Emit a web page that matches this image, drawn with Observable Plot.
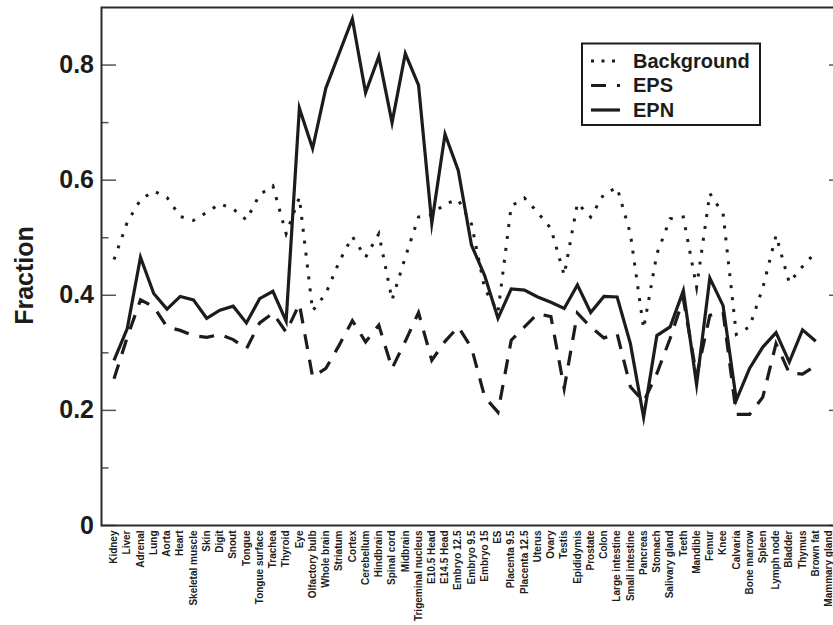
<!DOCTYPE html>
<html><head><meta charset="utf-8">
<script src="https://cdn.jsdelivr.net/npm/d3@7"></script>
<script src="https://cdn.jsdelivr.net/npm/@observablehq/plot@0.6"></script>
<style>
html,body{margin:0;padding:0;background:#fff;overflow:hidden;}
#wrap{width:833px;height:625px;overflow:hidden;position:relative;background:#fff;}
</style></head><body><div id="wrap"></div>
<script>
const tissues = ["Kidney","Liver","Adrenal","Lung","Aorta","Heart","Skeletal muscle","Skin","Digit","Snout","Tongue","Tongue surface","Trachea","Thyroid","Eye","Olfactory bulb","Whole brain","Striatum","Cortex","Cerebellum","Hindbrain","Spinal cord","Midbrain","Trigeminal nucleus","E10.5 Head","E14.5 Head","Embryo 12.5","Embryo 9.5","Embryo 15","ES","Placenta 9.5","Placenta 12.5","Uterus","Ovary","Testis","Epididymis","Prostate","Colon","Large intestine","Small intestine","Pancreas","Stomach","Salivary gland","Teeth","Mandible","Femur","Knee","Calvaria","Bone marrow","Spleen","Lymph node","Bladder","Thymus","Brown fat","Mammary gland"];

const background = [0.462,0.527,0.566,0.581,0.570,0.537,0.530,0.544,0.559,0.550,0.531,0.575,0.590,0.507,0.570,0.373,0.403,0.458,0.502,0.466,0.507,0.392,0.466,0.536,0.540,0.559,0.566,0.524,0.411,0.371,0.555,0.569,0.544,0.516,0.435,0.560,0.536,0.576,0.587,0.507,0.342,0.472,0.533,0.536,0.414,0.577,0.542,0.332,0.345,0.413,0.504,0.422,0.450,0.475,null];

const eps = [0.255,0.327,0.392,0.380,0.345,0.339,0.330,0.327,0.332,0.323,0.307,0.352,0.369,0.336,0.385,0.258,0.273,0.313,0.356,0.319,0.348,0.273,0.320,0.370,0.287,0.320,0.345,0.309,0.223,0.197,0.322,0.345,0.368,0.363,0.238,0.369,0.345,0.326,0.333,0.241,0.215,0.264,0.325,0.394,0.260,0.365,0.371,0.193,0.193,0.223,0.316,0.265,0.263,0.278,null];

const epn = [0.287,0.342,0.466,0.403,0.376,0.398,0.392,0.360,0.374,0.381,0.352,0.394,0.407,0.355,0.725,0.655,0.760,0.820,0.880,0.752,0.815,0.700,0.820,0.765,0.525,0.680,0.617,0.487,0.434,0.360,0.411,0.409,0.397,0.388,0.377,0.418,0.370,0.398,0.397,0.316,0.188,0.330,0.345,0.408,0.245,0.430,0.382,0.218,0.273,0.310,0.335,0.284,0.340,0.320,null];

const majorTicks = [0, 0.2, 0.4, 0.6, 0.8];
const minorTicks = [0.1, 0.3, 0.5, 0.7];
const seriesNames = ["Background", "EPS", "EPN"];
const yLabel = "Fraction";

const rows = s => tissues.map((t, i) => ({tissue: t, value: s[i]}));
const ink = "#1c1c1c";
const tickInk = "#555";
const FONT = "'Liberation Sans', Arial, Helvetica, sans-serif";
const lineStyle = {x: "tissue", y: "value", stroke: ink, strokeWidth: 3.2, strokeLinejoin: "miter", strokeMiterlimit: 10, strokeLinecap: "butt", curve: "linear"};
const dashes = {"Background": "3,9", "EPS": "15,11", "EPN": null};

const chart = Plot.plot({
  width: 845, height: 625,
  marginLeft: 101, marginRight: 2, marginTop: 7, marginBottom: 100,
  style: {fontFamily: FONT, maxWidth: "none", background: "#fff", color: ink},
  x: {type: "point", domain: tissues, padding: 1.02, align: 0.463, round: false},
  y: {domain: [0, 0.9]},
  marks: [
    Plot.line(rows(background), {...lineStyle, strokeWidth: 3, strokeDasharray: dashes["Background"]}),
    Plot.line(rows(eps), {...lineStyle, strokeDasharray: dashes["EPS"]}),
    Plot.line(rows(epn), {...lineStyle}),
    Plot.axisX({tickSize: 0, tickRotate: -90, tickPadding: 5, fontSize: 10, fontWeight: "bold", fill: ink, label: null}),
    Plot.axisY({anchor: "left", ticks: majorTicks, tickSize: -15, tickPadding: 22.5,
      tickFormat: d => d === 0 ? "0" : d3.format(".1f")(d),
      fontSize: 25, fontWeight: "bold", fill: ink, stroke: tickInk, strokeWidth: 1.5, label: null}),
    Plot.axisY({anchor: "left", ticks: minorTicks, tickSize: -7.5, fill: "none", stroke: tickInk, strokeWidth: 1.5, label: null}),
    Plot.axisY({anchor: "right", ticks: majorTicks, tickSize: -15, fill: "none", stroke: tickInk, strokeWidth: 1.5, label: null}),
    Plot.axisY({anchor: "right", ticks: minorTicks, tickSize: -7.5, fill: "none", stroke: tickInk, strokeWidth: 1.5, label: null}),
    Plot.frame({stroke: "#2a2a2a", strokeWidth: 2}),
    Plot.text([yLabel], {text: d => d, frameAnchor: "left", dx: -77, dy: 9, rotate: -90, fontSize: 25, fontWeight: "bold", fill: ink, textAnchor: "middle", lineAnchor: "middle"})
  ]
});

// legend
const svg = d3.select(chart);
const lg = svg.append("g").attr("font-family", FONT).attr("text-anchor", "start");
lg.append("rect").attr("x", 582).attr("y", 43.5).attr("width", 178).attr("height", 81.5)
  .attr("fill", "#fff").attr("stroke", ink).attr("stroke-width", 2);
seriesNames.forEach((name, i) => {
  const cy = 61 + i * 24.5;
  const ln = lg.append("line").attr("x1", 591).attr("x2", 620).attr("y1", cy).attr("y2", cy)
    .attr("stroke", ink).attr("stroke-width", name === "Background" ? 3 : 3.2).attr("stroke-linecap", "butt");
  if (name === "Background") ln.attr("stroke-dasharray", "3,7.5");
  else if (dashes[name]) ln.attr("stroke-dasharray", dashes[name]);
  lg.append("text").attr("x", 633).attr("y", cy + 6.5).attr("font-size", 20).attr("font-weight", "bold")
    .attr("text-anchor", "start").attr("fill", ink).text(name);
});

document.getElementById("wrap").appendChild(chart);
</script>
</body></html>
